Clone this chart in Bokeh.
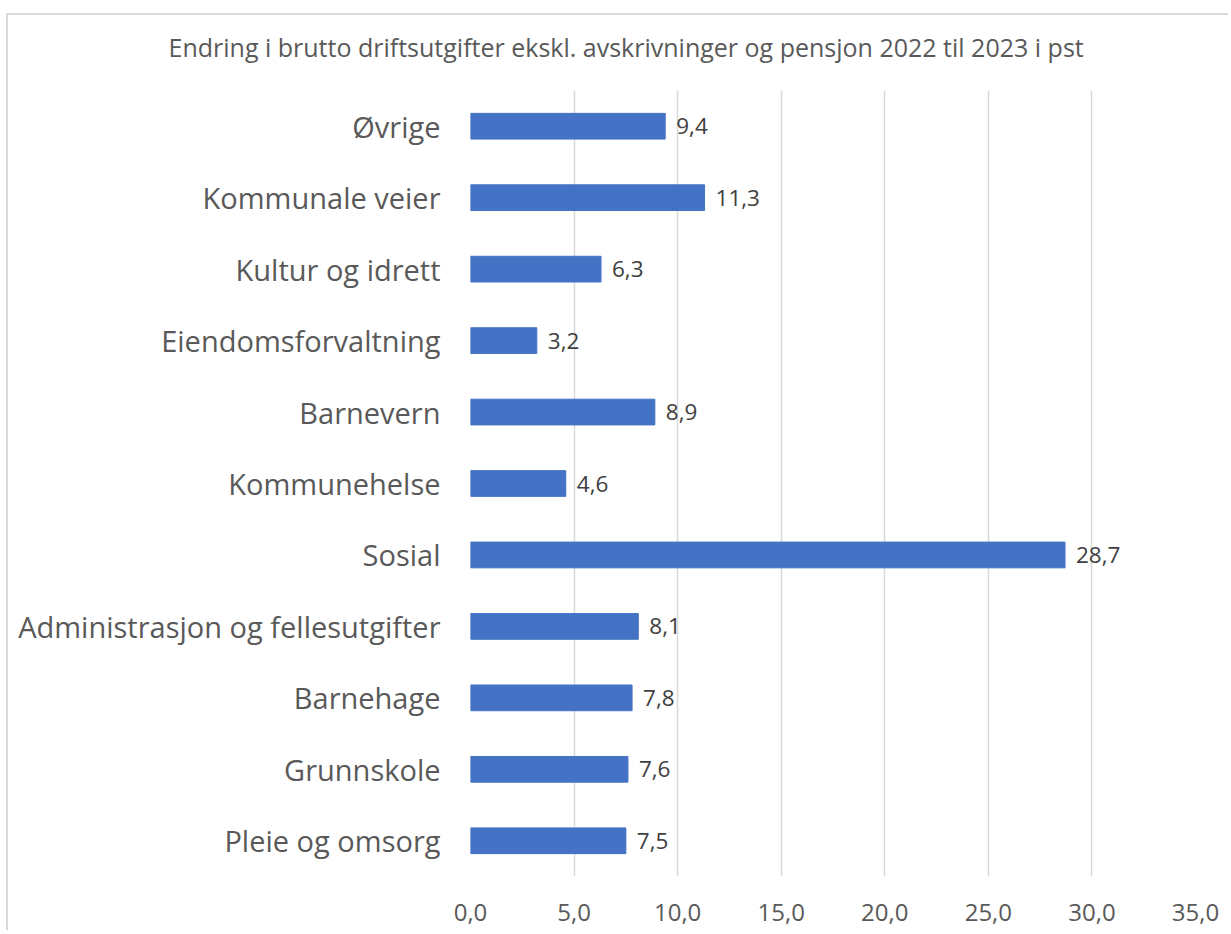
from bokeh.plotting import figure
from bokeh.models import FactorRange, Range1d, FixedTicker, CustomJSTickFormatter, ColumnDataSource
from bokeh.embed import file_html
from bokeh.resources import INLINE
from bokeh.core.properties import value

# Data (bottom to top)
categories = ["Pleie og omsorg", "Grunnskole", "Barnehage", "Administrasjon og fellesutgifter",
              "Sosial", "Kommunehelse", "Barnevern", "Eiendomsforvaltning",
              "Kultur og idrett", "Kommunale veier", "Øvrige"]
values = [7.5, 7.6, 7.8, 8.1, 28.7, 4.6, 8.9, 3.2, 6.3, 11.3, 9.4]
x_ticks = [0, 5, 10, 15, 20, 25, 30, 35]
title_text = "Endring i brutto driftsutgifter ekskl. avskrivninger og pensjon 2022 til 2023 i pst"

labels = [f"{v:.1f}".replace(".", ",") for v in values]
src = ColumnDataSource(dict(cat=categories, val=values, lab=labels))

FONT = "Open Sans"

p = figure(width=1228, height=930, y_range=FactorRange(*categories, range_padding=0),
           x_range=Range1d(0, 35), output_backend="svg", toolbar_location=None,
           min_border_left=470, min_border_right=33, min_border_top=90, min_border_bottom=54)
p.border_fill_color = None
p.background_fill_color = "white"
p.styles = {"background": "linear-gradient(#d9d9d9, #d9d9d9) 6px 13px / 100% 2px no-repeat, "
                          "linear-gradient(#d9d9d9, #d9d9d9) 6px 13px / 2px 100% no-repeat, white"}

p.hbar(y="cat", right="val", left=0, height=0.36, source=src, fill_color="#4472C4", line_color="#4472C4")
p.text(x="val", y="cat", text="lab", source=src, x_offset=11, text_align="left", text_baseline="middle",
       text_font=value(FONT), text_font_size="22.5px", text_color="#404040")

p.title.text = title_text
p.title.align = "left"
p.title.offset = -302
p.title.text_font = FONT
p.title.text_font_size = "25px"
p.title.text_font_style = "normal"
p.title.text_color = "#595959"
p.title.standoff = 54

p.xaxis.ticker = FixedTicker(ticks=x_ticks)
p.xaxis.formatter = CustomJSTickFormatter(code="return tick.toFixed(1).replace('.', ',');")
p.xaxis.axis_line_color = None
p.xaxis.major_tick_line_color = None
p.xaxis.minor_tick_line_color = None
p.xaxis.major_label_standoff = 21
p.xaxis.major_label_text_font = FONT
p.xaxis.major_label_text_font_size = "24px"
p.xaxis.major_label_text_color = "#595959"

p.yaxis.axis_line_color = None
p.yaxis.major_tick_line_color = None
p.yaxis.minor_tick_line_color = None
p.yaxis.major_label_standoff = 24
p.yaxis.major_label_text_font = FONT
p.yaxis.major_label_text_font_size = "29px"
p.yaxis.major_label_text_color = "#595959"

p.xgrid.grid_line_color = "#d9d9d9"
p.xgrid.grid_line_width = 1.5
p.ygrid.grid_line_color = None
p.outline_line_color = None

open("out.html", "w").write(file_html(p, INLINE))
